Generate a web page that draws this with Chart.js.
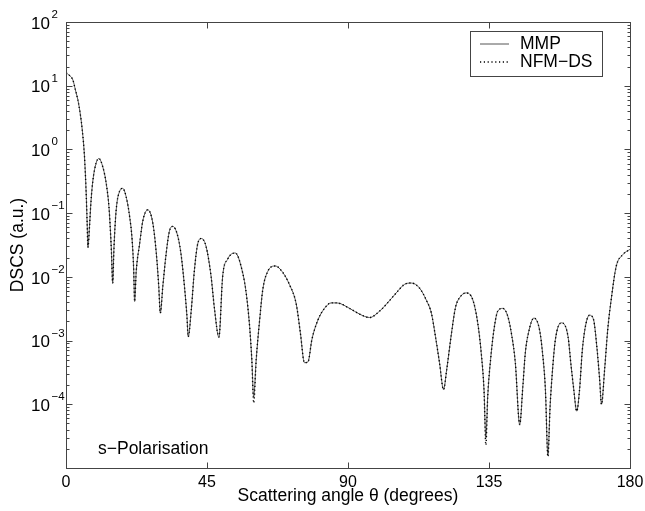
<!DOCTYPE html>
<html>
<head>
<meta charset="utf-8">
<script src="https://cdn.jsdelivr.net/npm/chart.js@4.4.0/dist/chart.umd.min.js"></script>
<style>
  html, body { margin: 0; padding: 0; background: #fff; }
</style>
</head>
<body>
<canvas id="dscs" width="645" height="511"></canvas>
<script>
// values (angle in degrees, DSCS in a.u.)
var angles = [
  0, 0.9, 2.2, 3.0, 4.0, 5.2, 5.9, 6.4, 6.75, 7.0,
  7.5, 8.0, 8.6, 9.6, 10.5, 11.7, 12.8, 13.7, 14.1, 14.5,
  14.9, 15.3, 16.0, 17.1, 18.1, 19.2, 20.3, 21.1, 21.6, 21.9,
  22.4, 23.5, 24.5, 26.1, 27.7, 28.8, 29.6, 30.1, 30.9, 32.0,
  33.0, 34.1, 35.7, 36.8, 37.8, 38.6, 39.0, 40.0, 41.0, 42.1,
  43.2, 44.7, 46.3, 47.4, 48.8, 50.0, 51.6, 54.0, 56.4, 57.5,
  58.6, 59.3, 59.9, 60.7, 61.8, 62.8, 64.4, 66.8, 69.2, 71.3,
  73.5, 74.8, 76.1, 77.2, 78.5, 80.4, 82.5, 84.6, 86.5, 90.5,
  93.7, 96.9, 100.1, 102.2, 105.4, 108.0, 110.2, 112.8, 115.0, 116.6,
  117.9, 119.2, 120.5, 121.5, 122.9, 124.3, 125.6, 127.7, 129.8, 131.4,
  132.5, 133.4, 134.0, 134.6, 135.5, 136.6, 137.8, 139.4, 141.0, 142.3,
  143.4, 144.8, 145.8, 146.6, 147.6, 149.3, 151.1, 152.2, 153.0, 153.8,
  154.5, 155.2, 156.2, 158.1, 160.2, 161.2, 162.0, 163.0, 163.9, 164.8,
  166.0, 167.1, 168.4, 169.4, 170.3, 170.9, 171.9, 172.9, 174.0, 175.6,
  177.7, 180
];

var mmp = [
  16, 14.8, 12.3, 8.6, 5.3, 2.0, 0.77, 0.23, 0.07, 0.029,
  0.062, 0.16, 0.33, 0.61, 0.72, 0.54, 0.30, 0.127, 0.062, 0.025,
  0.008, 0.028, 0.11, 0.22, 0.245, 0.18, 0.089, 0.038, 0.013, 0.0041,
  0.012, 0.033, 0.075, 0.113, 0.07, 0.024, 0.0071, 0.0027, 0.0071, 0.024,
  0.052, 0.062, 0.043, 0.021, 0.0071, 0.0024, 0.00115, 0.0031, 0.013, 0.034,
  0.040, 0.030, 0.0102, 0.0031, 0.00113, 0.0102, 0.019, 0.0237, 0.0115, 0.0056,
  0.00167, 0.0005, 0.00013, 0.0005, 0.0021, 0.0063, 0.0122, 0.0148, 0.0117, 0.0076,
  0.0037, 0.00132, 0.00045, 0.00046, 0.00105, 0.0021, 0.0032, 0.0039, 0.0039, 0.0032,
  0.0026, 0.0023, 0.0029, 0.0037, 0.0056, 0.0076, 0.0080, 0.0067, 0.0043, 0.0027,
  0.00117, 0.00045, 0.00017, 0.00035, 0.00117, 0.0033, 0.0047, 0.0056, 0.0044, 0.0019,
  0.00065, 0.00017, 0.00003, 0.000135, 0.0005, 0.0015, 0.0029, 0.0032, 0.0024, 0.00117,
  0.00045, 0.000048, 0.00019, 0.00065, 0.00132, 0.00225, 0.0015, 0.00056, 0.00017, 0.000016,
  0.000093, 0.00031, 0.00105, 0.0019, 0.00117, 0.0004, 0.00018, 0.000078, 0.00017, 0.00072,
  0.0019, 0.0025, 0.0021, 0.00081, 0.00025, 0.0001, 0.00035, 0.0015, 0.0044, 0.0146,
  0.0223, 0.027
];

var nfmds = [
  16, 14.8, 12.3, 8.6, 5.3, 2.0, 0.77, 0.23, 0.07, 0.029,
  0.062, 0.16, 0.33, 0.61, 0.72, 0.54, 0.30, 0.127, 0.062, 0.025,
  0.008, 0.028, 0.11, 0.22, 0.245, 0.18, 0.089, 0.038, 0.013, 0.0041,
  0.012, 0.033, 0.075, 0.113, 0.07, 0.024, 0.0071, 0.0027, 0.0071, 0.024,
  0.052, 0.062, 0.043, 0.021, 0.0071, 0.0024, 0.00115, 0.0031, 0.013, 0.034,
  0.040, 0.030, 0.0102, 0.0031, 0.00113, 0.0102, 0.019, 0.0237, 0.0115, 0.0056,
  0.00167, 0.0005, 0.000105, 0.0005, 0.0021, 0.0063, 0.0122, 0.0148, 0.0117, 0.0076,
  0.0037, 0.00132, 0.00045, 0.00046, 0.00105, 0.0021, 0.0032, 0.0039, 0.0039, 0.0032,
  0.0026, 0.0023, 0.0029, 0.0037, 0.0056, 0.0076, 0.0080, 0.0067, 0.0043, 0.0027,
  0.00117, 0.00045, 0.00017, 0.00035, 0.00117, 0.0033, 0.0047, 0.0056, 0.0044, 0.0019,
  0.00065, 0.00017, 0.000023, 0.000135, 0.0005, 0.0015, 0.0029, 0.0032, 0.0024, 0.00117,
  0.00045, 0.000048, 0.00019, 0.00065, 0.00132, 0.00225, 0.0015, 0.00056, 0.00017, 0.000015,
  0.000093, 0.00031, 0.00105, 0.0019, 0.00117, 0.0004, 0.00018, 0.000078, 0.00017, 0.00072,
  0.0019, 0.0025, 0.0021, 0.00081, 0.00025, 0.0001, 0.00035, 0.0015, 0.0044, 0.0146,
  0.0223, 0.027
];

var seriesLabels = ['MMP', 'NFM\u2212DS'];
var xTicks = [0, 45, 90, 135, 180];
var yLabelExponents = [2, 1, 0, -1, -2, -3, -4];
var panelLabel = 's\u2212Polarisation';

var FONT = '"Liberation Sans", Arial, Helvetica, sans-serif';
var FRAME = '#444';

function toPoints(xs, ys) {
  return xs.map(function(x, i) { return {x: x, y: ys[i]}; });
}

// frame, inward ticks, y labels with exponents, legend box and panel text
var decorations = {
  id: 'decorations',
  afterDraw: function(chart) {
    var ctx = chart.ctx;
    var area = chart.chartArea;
    var xs = chart.scales.x;
    var ys = chart.scales.y;
    var L = Math.round(area.left) + 0.5, R = Math.round(area.right) + 0.5;
    var T = Math.round(area.top) + 0.5, B = Math.round(area.bottom) + 0.5;

    ctx.save();
    ctx.strokeStyle = FRAME;
    ctx.lineWidth = 1;
    ctx.strokeRect(L, T, R - L, B - T);

    ctx.beginPath();
    xTicks.forEach(function(v) {
      var px = Math.round(xs.getPixelForValue(v)) + 0.5;
      ctx.moveTo(px, B); ctx.lineTo(px, B - 6);
      ctx.moveTo(px, T); ctx.lineTo(px, T + 6);
    });
    for (var e = -5; e <= 2; e++) {
      for (var m = 1; m <= 9; m++) {
        var v = m * Math.pow(10, e);
        if (v > 100) break;
        var py = Math.round(ys.getPixelForValue(v)) + 0.5;
        var len = m === 1 ? 6 : 3;
        ctx.moveTo(L, py); ctx.lineTo(L + len, py);
        ctx.moveTo(R, py); ctx.lineTo(R - len, py);
      }
    }
    ctx.stroke();

    // y tick labels 10^n
    ctx.fillStyle = '#000';
    yLabelExponents.forEach(function(e) {
      var py = ys.getPixelForValue(Math.pow(10, e));
      ctx.font = '17px ' + FONT;
      ctx.textAlign = 'right';
      ctx.textBaseline = 'middle';
      ctx.fillText('10', 50, py + 2);
      ctx.font = '11.5px ' + FONT;
      ctx.textAlign = 'left';
      ctx.textBaseline = 'alphabetic';
      ctx.fillText(String(e).replace('-', '\u2212'), 51.5, py - 4);
    });

    // legend
    var lx = 470.5, ly = 31.5, lw = 132, lh = 45;
    ctx.fillStyle = '#fff';
    ctx.fillRect(lx, ly, lw, lh);
    ctx.strokeStyle = FRAME;
    ctx.strokeRect(lx, ly, lw, lh);
    chart.data.datasets.forEach(function(ds, i) {
      var cy = ly + 12.5 + i * 18;
      ctx.save();
      ctx.strokeStyle = ds.borderColor;
      ctx.lineWidth = ds.borderWidth;
      ctx.setLineDash(ds.borderDash || []);
      ctx.beginPath();
      ctx.moveTo(480, cy); ctx.lineTo(509, cy);
      ctx.stroke();
      ctx.restore();
      ctx.fillStyle = '#000';
      ctx.font = '17.5px ' + FONT;
      ctx.textAlign = 'left';
      ctx.textBaseline = 'middle';
      ctx.fillText(ds.label, 520, cy);
    });

    // panel label
    ctx.font = '17.5px ' + FONT;
    ctx.textAlign = 'left';
    ctx.textBaseline = 'middle';
    ctx.fillText(panelLabel, 98, 449);
    ctx.restore();
  }
};

new Chart(document.getElementById('dscs'), {
  type: 'line',
  data: {
    datasets: [
      {
        label: seriesLabels[0],
        data: toPoints(angles, mmp),
        borderColor: '#555',
        borderWidth: 1,
        pointRadius: 0,
        cubicInterpolationMode: 'monotone',
        order: 2
      },
      {
        label: seriesLabels[1],
        data: toPoints(angles, nfmds),
        borderColor: '#000',
        borderWidth: 1.4,
        borderDash: [1.2, 2.6],
        pointRadius: 0,
        cubicInterpolationMode: 'monotone',
        order: 1
      }
    ]
  },
  options: {
    responsive: false,
    devicePixelRatio: 1,
    animation: false,
    layout: { padding: { top: 22, right: 15, left: 0, bottom: 0 } },
    plugins: { legend: { display: false }, tooltip: { enabled: false } },
    scales: {
      x: {
        type: 'linear',
        min: 0,
        max: 180,
        grid: { display: false },
        border: { display: false },
        ticks: {
          stepSize: 45,
          autoSkip: false,
          padding: -3,
          color: '#000',
          font: { family: FONT, size: 16 }
        },
        title: {
          display: true,
          text: 'Scattering angle \u03b8 (degrees)',
          color: '#000',
          font: { family: FONT, size: 17.5 },
          padding: { top: 0, bottom: 4 }
        },
        afterFit: function(scale) { scale.height = 43; }
      },
      y: {
        type: 'logarithmic',
        min: 1e-5,
        max: 100,
        grid: { display: false },
        border: { display: false },
        ticks: { display: false },
        title: {
          display: true,
          text: 'DSCS (a.u.)',
          color: '#000',
          font: { family: FONT, size: 17.5 },
          padding: { top: 8, bottom: 0 }
        },
        afterFit: function(scale) { scale.width = 66; }
      }
    }
  },
  plugins: [decorations]
});
</script>
</body>
</html>
